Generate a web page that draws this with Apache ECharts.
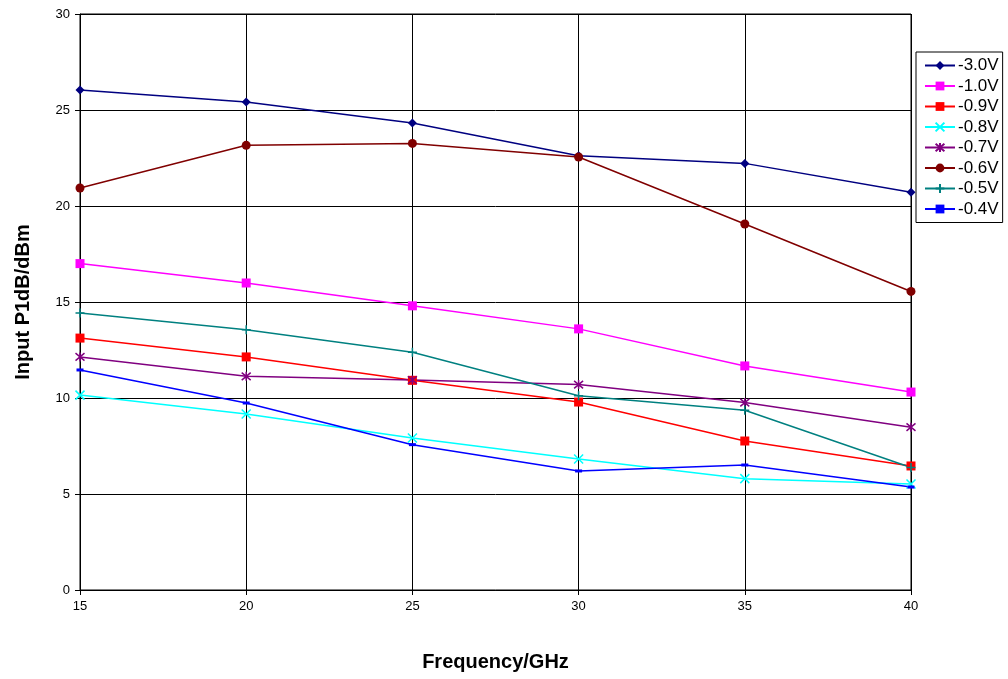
<!DOCTYPE html>
<html><head><meta charset="utf-8">
<script src="https://cdn.jsdelivr.net/npm/echarts@6/dist/echarts.min.js"></script>
<style>html,body{margin:0;padding:0;background:#fff}#c{width:1008px;height:679px}</style>
</head><body><div id="c"></div>
<script>
const freqs = [15, 20, 25, 30, 35, 40];
const names = ['-3.0V','-1.0V','-0.9V','-0.8V','-0.7V','-0.6V','-0.5V','-0.4V'];
const v30 = [26.04, 25.42, 24.32, 22.62, 22.22, 20.72];
const v10 = [17.0, 15.99, 14.8, 13.6, 11.67, 10.31];
const v09 = [13.12, 12.14, 10.92, 9.79, 7.76, 6.46];
const v08 = [10.15, 9.17, 7.92, 6.82, 5.8, 5.52];
const v07 = [12.14, 11.13, 10.94, 10.7, 9.76, 8.48];
const v06 = [20.94, 23.16, 23.26, 22.55, 19.06, 15.55];
const v05 = [14.43, 13.56, 12.38, 10.12, 9.36, 6.38];
const v04 = [11.46, 9.74, 7.57, 6.2, 6.51, 5.36];
const yTicks = [0, 5, 10, 15, 20, 25, 30];

const seriesData = [v30, v10, v09, v08, v07, v06, v05, v04];
const colors = ['#000080','#FF00FF','#FF0000','#00FFFF','#800080','#800000','#008080','#0000FF'];
const symbols = ['diamond','rect','rect','path://M0,0L10,10M10,0L0,10','path://M0,0L10,10M10,0L0,10M5,-1L5,11','circle','path://M5,0L5,10M0,5L10,5','rect'];
const sizes = [9, 9, 9, 9, 9, 9, 9, [7,3]];
const strokeOnly = [false,false,false,true,true,false,true,false];

const series = names.map((n,i)=>({
  name: n, type: 'line',
  data: freqs.map((f,j)=>[f, seriesData[i][j]]),
  symbol: symbols[i], symbolSize: sizes[i], showSymbol: true,
  lineStyle: {color: colors[i], width: 1.5},
  itemStyle: {color: colors[i], borderColor: colors[i], borderWidth: strokeOnly[i] ? 1.5 : 0},
  animation: false, z: 3
}));

const chart = echarts.init(document.getElementById('c'));
chart.setOption({
  animation: false,
  grid: {left: 80, right: 97, top: 14, bottom: 89, show: true, borderColor: '#000', borderWidth: 1},
  xAxis: {
    type: 'value', min: 15, max: 40, interval: 5,
    name: 'Frequency/GHz', nameLocation: 'middle', nameGap: 62,
    nameTextStyle: {fontFamily: 'Liberation Sans', fontWeight: 'bold', fontSize: 20, color: '#000'},
    axisLine: {lineStyle: {color: '#000'}},
    axisTick: {show: true, inside: false, length: 5, lineStyle: {color: '#000'}},
    axisLabel: {fontFamily: 'Liberation Sans', fontSize: 13, color: '#000', margin: 10},
    splitLine: {show: true, lineStyle: {color: '#000', width: 1}}
  },
  yAxis: {
    type: 'value', min: yTicks[0], max: yTicks[yTicks.length-1], interval: 5,
    name: 'Input P1dB/dBm', nameLocation: 'middle', nameGap: 47,
    nameTextStyle: {fontFamily: 'Liberation Sans', fontWeight: 'bold', fontSize: 20, color: '#000'},
    axisLine: {show: true, lineStyle: {color: '#000'}},
    axisTick: {show: true, inside: false, length: 5, lineStyle: {color: '#000'}},
    axisLabel: {fontFamily: 'Liberation Sans', fontSize: 13, color: '#000', margin: 10},
    splitLine: {show: true, lineStyle: {color: '#000', width: 1}}
  },
  legend: {
    orient: 'vertical', left: 916, top: 52,
    width: 88,
    borderColor: '#000', borderWidth: 1, padding: [5, 4, 5, 8],
    itemWidth: 30, itemHeight: 11, itemGap: 3.5,
    textStyle: {fontFamily: 'Liberation Sans', fontSize: 17, color: '#000', padding: [0,0,0,-2]},
    data: names
  },
  series: series
});
</script></body></html>
